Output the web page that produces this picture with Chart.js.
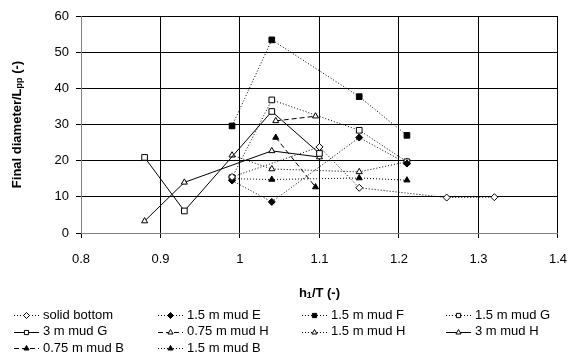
<!DOCTYPE html>
<html>
<head>
<meta charset="utf-8">
<script src="https://cdn.jsdelivr.net/npm/chart.js"></script>
<style>
  html, body { margin: 0; padding: 0; background: #fff; }
  #wrap { position: relative; width: 581px; height: 356px; }
</style>
</head>
<body>
<div id="wrap"><canvas id="myChart" width="581" height="356"></canvas></div>
<script>
// h1/T (x) and final diameter / Lpp (y) for each test series
const solid_x = [0.99, 1.10, 1.15, 1.26, 1.32];
const solid_y = [15.5, 23.8, 12.5, 9.8, 9.9];

const mud15E_x = [0.99, 1.04, 1.15, 1.21];
const mud15E_y = [14.5, 8.6, 26.4, 19.2];

const mud15F_x = [0.99, 1.04, 1.15, 1.21];
const mud15F_y = [29.6, 53.4, 37.7, 27.0];

const mud15G_x = [0.99, 1.04, 1.15, 1.21];
const mud15G_y = [15.3, 36.8, 28.4, 19.7];

const mud3G_x = [0.88, 0.93, 1.04, 1.10];
const mud3G_y = [20.9, 6.1, 33.6, 22.0];

const mud075H_x = [1.045, 1.095];
const mud075H_y = [31.0, 32.3];

const mud15H_x = [0.99, 1.04, 1.15, 1.21];
const mud15H_y = [21.5, 17.7, 16.9, 19.7];

const mud3H_x = [0.88, 0.93, 1.04, 1.10];
const mud3H_y = [3.3, 14.0, 22.7, 21.0];

const mud075B_x = [1.045, 1.095];
const mud075B_y = [26.4, 12.7];

const mud15B_x = [0.99, 1.04, 1.15, 1.21];
const mud15B_y = [15.0, 14.8, 15.2, 14.6];

const x_tick_labels = ['0.8', '0.9', '1', '1.1', '1.2', '1.3', '1.4'];
const y_tick_labels = ['0', '10', '20', '30', '40', '50', '60'];

const DOT = [1, 2];
const DASH = [5, 3];
const SOLID = [];

function series(label, xs, ys, dash, style, filled)
{
    return {
        label: label,
        data: xs.map((x, i) => ({x: x, y: ys[i]})),
        showLine: true,
        tension: 0,
        borderColor: '#000',
        backgroundColor: filled ? '#000' : '#fff',
        borderWidth: 1,
        borderDash: dash,
        pointStyle: style,
        pointRadius: style === 'rect' ? 4 : 3.5,
        pointBackgroundColor: filled ? '#000' : '#fff',
        pointBorderColor: '#000',
        pointBorderWidth: 1
    };
}

const datasets = [
    series('solid bottom', solid_x, solid_y, DOT, 'rectRot', false),
    series('1.5 m mud E', mud15E_x, mud15E_y, DOT, 'rectRot', true),
    series('1.5 m mud F', mud15F_x, mud15F_y, DOT, 'rect', true),
    series('1.5 m mud G', mud15G_x, mud15G_y, DOT, 'rect', false),
    series('3 m mud G', mud3G_x, mud3G_y, SOLID, 'rect', false),
    series('0.75 m mud H', mud075H_x, mud075H_y, DASH, 'triangle', false),
    series('1.5 m mud H', mud15H_x, mud15H_y, DOT, 'triangle', false),
    series('3 m mud H', mud3H_x, mud3H_y, SOLID, 'triangle', false),
    series('0.75 m mud B', mud075B_x, mud075B_y, DASH, 'triangle', true),
    series('1.5 m mud B', mud15B_x, mud15B_y, DOT, 'triangle', true)
];

const FONT = '"Liberation Sans", Arial, sans-serif';

// draws a run of text pieces, some of them as subscripts
function drawParts(ctx, parts, cx, cy)
{
    let total = 0;
    parts.forEach(p => {
        ctx.font = 'bold ' + p.size + 'px ' + FONT;
        p.w = ctx.measureText(p.t).width;
        total += p.w;
    });
    let x = cx - total / 2;
    parts.forEach(p => {
        ctx.font = 'bold ' + p.size + 'px ' + FONT;
        ctx.fillText(p.t, x, cy + (p.sub ? 3 : 0));
        x += p.w;
    });
}

const extras = {
    id: 'extras',
    afterDraw(chart)
    {
        const ctx = chart.ctx;
        const area = chart.chartArea;
        ctx.save();
        ctx.fillStyle = '#000';
        ctx.textBaseline = 'middle';
        ctx.textAlign = 'left';

        // x axis title
        drawParts(ctx, [
            {t: 'h', size: 13}, {t: '1', size: 9, sub: true}, {t: '/T (-)', size: 13}
        ], (area.left + area.right) / 2, 293);

        // y axis title
        ctx.save();
        ctx.translate(17, (area.top + area.bottom) / 2);
        ctx.rotate(-Math.PI / 2);
        drawParts(ctx, [
            {t: 'Final diameter/L', size: 13}, {t: 'pp', size: 9, sub: true}, {t: ' (-)', size: 13}
        ], 0, 0);
        ctx.restore();

        // legend, four columns
        const cols = [14, 158, 302, 446];
        const rows = [315, 331.5, 348];
        chart.data.datasets.forEach((ds, i) => {
            const x0 = cols[i % 4];
            const y0 = rows[Math.floor(i / 4)];
            ctx.save();
            ctx.strokeStyle = '#000';
            ctx.lineWidth = 1;
            ctx.setLineDash(ds.borderDash);
            ctx.beginPath();
            ctx.moveTo(x0, Math.round(y0) + 0.5);
            ctx.lineTo(x0 + 25, Math.round(y0) + 0.5);
            ctx.stroke();
            ctx.setLineDash([]);
            ctx.fillStyle = ds.pointBackgroundColor;
            Chart.helpers.drawPoint(ctx, {
                pointStyle: ds.pointStyle,
                radius: 3,
                borderWidth: 1,
                rotation: 0
            }, x0 + 12.5, Math.round(y0) + 0.5);
            ctx.restore();
            ctx.font = '13px ' + FONT;
            ctx.fillStyle = '#000';
            ctx.fillText(ds.label, x0 + 29, y0);
        });
        ctx.restore();
    }
};

let chart_1 = new Chart(document.getElementById('myChart'),
{
    type: 'scatter',
    data: { datasets: datasets },
    plugins: [extras],
    options:
    {
        responsive: false,
        animation: false,
        layout: { padding: { left: 0, top: 16, right: 12, bottom: 0 } },
        font: { family: FONT, size: 13 },
        plugins:
        {
            legend: { display: false },
            tooltip: { enabled: false }
        },
        scales:
        {
            x:
            {
                type: 'linear',
                min: 0.8,
                max: 1.4,
                ticks:
                {
                    stepSize: 0.1,
                    color: '#000',
                    font: { family: FONT, size: 13 },
                    padding: 14,
                    maxRotation: 0,
                    callback: (v, i) => x_tick_labels[i]
                },
                grid: { color: '#000', lineWidth: 1, tickLength: 5 },
                border: { color: '#808080', width: 1 },
                afterFit: s => { s.height = 123; }
            },
            y:
            {
                min: 0,
                max: 60,
                ticks:
                {
                    stepSize: 10,
                    color: '#000',
                    font: { family: FONT, size: 13 },
                    padding: 7,
                    callback: (v, i) => y_tick_labels[i]
                },
                grid: { color: '#000', lineWidth: 1, tickLength: 5 },
                border: { color: '#808080', width: 1 },
                afterFit: s => { s.width = 81; }
            }
        }
    }
});
</script>
</body>
</html>
